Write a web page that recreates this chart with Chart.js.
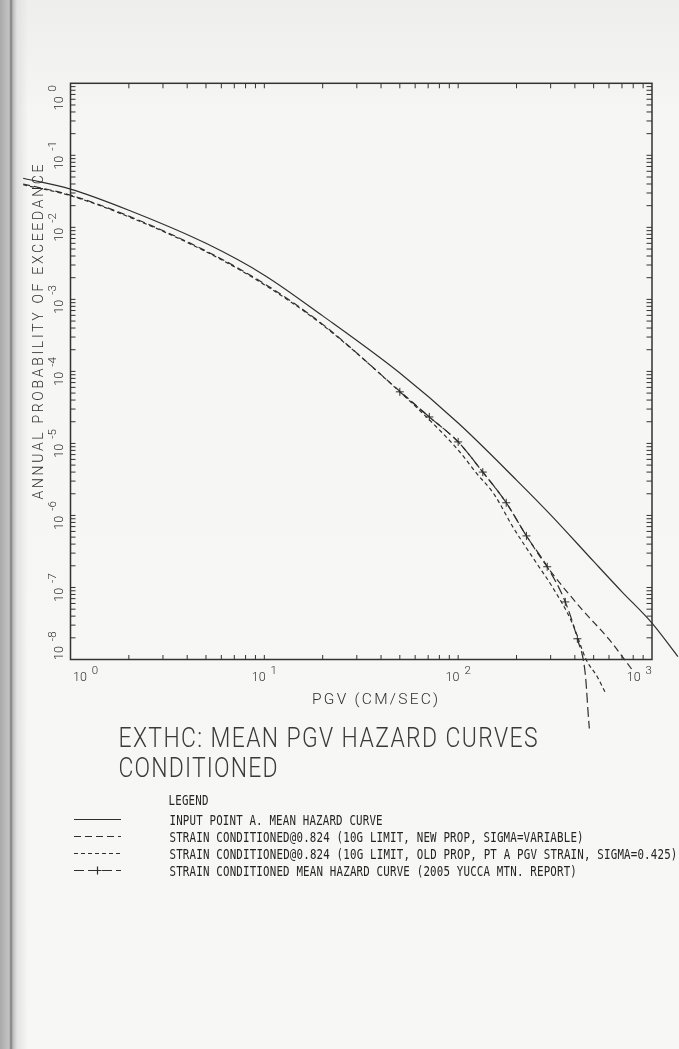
<!DOCTYPE html>
<html>
<head>
<meta charset="utf-8">
<script src="https://cdn.jsdelivr.net/npm/chart.js@4.4.1/dist/chart.umd.min.js"></script>
<style>
  html, body { margin: 0; padding: 0; }
  body { width: 679px; height: 1049px; overflow: hidden; background: #f6f6f4; }
  #paper {
    position: absolute; left: 0; top: 0; width: 679px; height: 1049px;
    background:
      linear-gradient(to right, #a9a9a9 0px, #c4c4c4 9px, #7d7d7d 11px, #bdbdbd 13px, #e2e2e2 17px, rgba(243,243,241,0) 28px),
      linear-gradient(to bottom, #eeeeec 0px, #f6f6f4 120px, #f7f7f5 1049px);
  }
  canvas { position: absolute; left: 0; top: 0; }
</style>
</head>
<body>
<div id="paper"></div>
<canvas id="hazard" width="679" height="1049"></canvas>
<script>
// ---- Curve data: PGV (cm/s) and annual probability of exceedance ----
const inputPgv  = [0.57, 1, 2, 5, 10, 20, 50, 100, 200, 300, 500, 700, 1000, 1360];
const inputProb = [4.8e-2, 3.4e-2, 1.73e-2, 6.0e-3, 2.17e-3, 5.9e-4, 9.5e-5, 1.92e-5, 3.1e-6, 1.02e-6, 2.3e-7, 8.7e-8, 3.2e-8, 1.1e-8];

const newPropPgv  = [0.57, 1, 2, 5, 10, 20, 50, 71, 100, 134, 177, 225, 288, 437, 601, 790];
const newPropProb = [4.0e-2, 2.8e-2, 1.43e-2, 4.7e-3, 1.65e-3, 4.5e-4, 5.3e-5, 2.33e-5, 1.05e-5, 4.0e-6, 1.5e-6, 5.2e-7, 1.94e-7, 4.9e-8, 1.9e-8, 7.2e-9];

const oldPropPgv  = [0.57, 1, 2, 5, 10, 20, 50, 82, 102, 124, 154, 191, 253, 306, 388, 458, 521, 580];
const oldPropProb = [3.9e-2, 2.75e-2, 1.4e-2, 4.6e-3, 1.6e-3, 4.4e-4, 5.2e-5, 1.44e-5, 7.6e-6, 3.9e-6, 1.93e-6, 7.0e-7, 2.2e-7, 1.02e-7, 3.2e-8, 9.9e-9, 5.8e-9, 3.3e-9];

const yuccaPgv  = [50, 71, 100, 134, 177, 225, 288, 357, 412, 453, 469, 475];
const yuccaProb = [5.2e-5, 2.33e-5, 1.05e-5, 4.0e-6, 1.5e-6, 5.2e-7, 1.94e-7, 6.3e-8, 1.94e-8, 6.2e-9, 1.7e-9, 1.1e-9];

// ---- Axis ranges and decades (labels drawn as 10 with a raised exponent) ----
const xMin = 1, xMax = 1000;
const yMin = 1e-8, yMax = 1;
const xDecades = [0, 1, 2, 3];
const yDecades = [0, -1, -2, -3, -4, -5, -6, -7, -8];

// ---- Text ----
const seriesLabels = [
  'INPUT POINT A. MEAN HAZARD CURVE',
  'STRAIN CONDITIONED@0.824 (10G LIMIT, NEW PROP, SIGMA=VARIABLE)',
  'STRAIN CONDITIONED@0.824 (10G LIMIT, OLD PROP, PT A PGV STRAIN, SIGMA=0.425)',
  'STRAIN CONDITIONED MEAN HAZARD CURVE (2005 YUCCA MTN. REPORT)'
];
const xTitle = 'PGV (CM/SEC)';
const yTitle = 'ANNUAL PROBABILITY OF EXCEEDANCE';
const titleLines = ['EXTHC: MEAN PGV HAZARD CURVES', 'CONDITIONED'];
const legendHeading = 'LEGEND';

const INK = '#2f2f2f';
const LIGHT = 'Roboto, "DejaVu Sans", sans-serif';
const MONO = '"DejaVu Sans Mono", monospace';

function pts(xs, ys) { return xs.map((x, i) => ({ x: x, y: ys[i] })); }

function curve(label, xs, ys, dash, extra) {
  return Object.assign({
    label: label,
    data: pts(xs, ys),
    borderColor: INK,
    backgroundColor: INK,
    borderWidth: 1.2,
    borderDash: dash,
    pointRadius: 0,
    fill: false,
    clip: false,
    cubicInterpolationMode: 'monotone'
  }, extra || {});
}

// Left-aligned text stretched by sx and letter-spaced to span `width`.
function spacedText(ctx, text, x, y, font, width, sx) {
  sx = sx || 1;
  ctx.save();
  ctx.font = font;
  const hasLS = ('letterSpacing' in ctx);
  if (hasLS) ctx.letterSpacing = '0px';
  const w0 = ctx.measureText(text).width;
  ctx.translate(x, y);
  if (hasLS) {
    ctx.scale(sx, 1);
    ctx.letterSpacing = ((width / sx - w0) / Math.max(1, text.length - 1)) + 'px';
  } else {
    ctx.scale(width / w0, 1);
  }
  ctx.fillText(text, 0, 0);
  if (hasLS) ctx.letterSpacing = '0px';
  ctx.restore();
}

const BASE_FONT = '300 12.5px ' + LIGHT;
const EXP_FONT = '300 11.5px ' + LIGHT;

function powerLabelWidth(ctx, exp) {
  ctx.font = BASE_FONT;
  const wBase = ctx.measureText('10').width;
  ctx.font = EXP_FONT;
  const wExp = ctx.measureText(String(exp)).width;
  return { wBase: wBase, total: wBase + 5 + wExp };
}

function drawPowerLabel(ctx, exp, startX, baseY) {
  const m = powerLabelWidth(ctx, exp);
  ctx.font = BASE_FONT;
  ctx.fillText('10', startX, baseY);
  ctx.font = EXP_FONT;
  ctx.fillText(String(exp), startX + m.wBase + 5, baseY - 7);
}

const framePlugin = {
  id: 'plotterFrame',
  afterDatasetsDraw(chart) {
    const ctx = chart.ctx;
    const xs = chart.scales.x, ys = chart.scales.y;
    const { left, right, top, bottom } = chart.chartArea;
    ctx.save();
    ctx.strokeStyle = '#333333';
    ctx.fillStyle = INK;
    ctx.lineWidth = 1.5;
    ctx.setLineDash([]);
    ctx.strokeRect(left, top, right - left, bottom - top);

    // inward ticks on all four sides
    ctx.lineWidth = 1;
    ctx.beginPath();
    for (let e = 0; e < 3; e++) {
      for (let m = 1; m <= 9; m++) {
        const px = xs.getPixelForValue(m * Math.pow(10, e));
        ctx.moveTo(px, bottom); ctx.lineTo(px, bottom - 4.5);
        ctx.moveTo(px, top); ctx.lineTo(px, top + 5);
      }
    }
    for (let e = -8; e < 0; e++) {
      for (let m = 1; m <= 9; m++) {
        const py = ys.getPixelForValue(m * Math.pow(10, e));
        ctx.moveTo(left, py); ctx.lineTo(left + 5, py);
        ctx.moveTo(right, py); ctx.lineTo(right - 5.5, py);
      }
    }
    ctx.stroke();

    ctx.textAlign = 'left';
    ctx.textBaseline = 'alphabetic';

    // x tick labels
    xDecades.forEach(function (e) {
      const p = xs.getPixelForValue(Math.pow(10, e));
      const w = powerLabelWidth(ctx, e).total;
      const s = Math.max(left + 2.5, Math.min(right - w, p - w / 2));
      drawPowerLabel(ctx, e, s, 681);
    });

    // y tick labels, rotated
    yDecades.forEach(function (e) {
      const p = ys.getPixelForValue(Math.pow(10, e));
      const w = powerLabelWidth(ctx, e).total;
      const c = Math.max(top + 1.7 + w / 2, Math.min(bottom + 0.5 - w / 2, p));
      ctx.save();
      ctx.translate(62.5, c);
      ctx.rotate(-Math.PI / 2);
      drawPowerLabel(ctx, e, -w / 2, 0);
      ctx.restore();
    });

    // axis titles
    spacedText(ctx, xTitle, 312, 703.5, '300 15.5px ' + LIGHT, 126, 1);
    ctx.save();
    ctx.translate(43.3, 332);
    ctx.rotate(-Math.PI / 2);
    spacedText(ctx, yTitle, -167.5, 0, '300 14px ' + LIGHT, 335, 1);
    ctx.restore();

    // chart title
    ctx.fillStyle = '#3a3a3a';
    spacedText(ctx, titleLines[0], 118.5, 747, '300 27px ' + LIGHT, 419, 0.85);
    spacedText(ctx, titleLines[1], 118.5, 777, '300 27px ' + LIGHT, 159, 0.85);

    // legend
    ctx.fillStyle = '#242424';
    const pitch = 6.7;
    spacedText(ctx, legendHeading, 168.5, 805, '13.5px ' + MONO, 40, 0.8);
    chart.data.datasets.forEach(function (ds, i) {
      const base = 825 + i * 17;
      const mid = base - 5.5;
      const t = seriesLabels[i];
      spacedText(ctx, t, 169.5, base, '13.5px ' + MONO, (t.length - 0.2) * pitch, 0.8);
      ctx.strokeStyle = INK;
      ctx.lineWidth = 1.2;
      ctx.setLineDash(ds.borderDash || []);
      ctx.beginPath();
      ctx.moveTo(74, mid); ctx.lineTo(121, mid);
      ctx.stroke();
      ctx.setLineDash([]);
      if (ds.pointStyle === 'cross') {
        Chart.helpers.drawPoint(ctx, { pointStyle: 'cross', radius: 4, borderWidth: 1, rotation: 0 }, 97.5, mid);
      }
    });
    ctx.restore();
  }
};

const yuccaRadii = yuccaPgv.map(function (v, i) { return i === yuccaPgv.length - 1 ? 0 : 4; });

new Chart(document.getElementById('hazard'), {
  type: 'line',
  data: {
    datasets: [
      curve(seriesLabels[0], inputPgv, inputProb, []),
      curve(seriesLabels[1], newPropPgv, newPropProb, [7, 4]),
      curve(seriesLabels[2], oldPropPgv, oldPropProb, [4, 3]),
      curve(seriesLabels[3], yuccaPgv, yuccaProb, [10, 4], {
        pointStyle: 'cross',
        pointRadius: yuccaRadii,
        pointBorderWidth: 1,
        pointBorderColor: INK
      })
    ]
  },
  options: {
    responsive: false,
    animation: false,
    devicePixelRatio: 1,
    layout: { padding: { left: 70.5, top: 83.3, right: 27, bottom: 389.5 } },
    plugins: { legend: { display: false }, tooltip: { enabled: false } },
    scales: {
      // range fixed after the data limits so that curves may run past the frame
      x: {
        type: 'logarithmic', display: false,
        afterDataLimits: function (scale) { scale.min = xMin; scale.max = xMax; }
      },
      y: { type: 'logarithmic', min: yMin, max: yMax, display: false }
    }
  },
  plugins: [framePlugin]
});
</script>
</body>
</html>
